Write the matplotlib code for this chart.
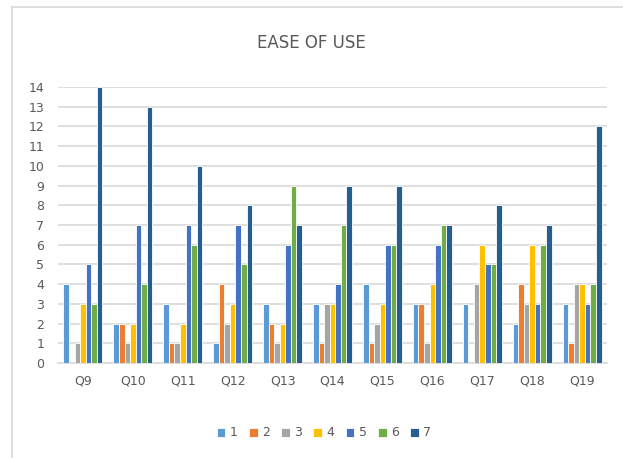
import numpy as np
import matplotlib
matplotlib.use("Agg")
import matplotlib.pyplot as plt
from matplotlib.lines import Line2D

questions = ["Q9", "Q10", "Q11", "Q12", "Q13", "Q14", "Q15", "Q16", "Q17", "Q18", "Q19"]
series_names = ["1", "2", "3", "4", "5", "6", "7"]
s1 = [4, 2, 3, 1, 3, 3, 4, 3, 3, 2, 3]
s2 = [0, 2, 1, 4, 2, 1, 1, 3, 0, 4, 1]
s3 = [1, 1, 1, 2, 1, 3, 2, 1, 4, 3, 4]
s4 = [3, 2, 2, 3, 2, 3, 3, 4, 6, 6, 4]
s5 = [5, 7, 7, 7, 6, 4, 6, 6, 5, 3, 3]
s6 = [3, 4, 6, 5, 9, 7, 6, 7, 5, 6, 4]
s7 = [14, 13, 10, 8, 7, 9, 9, 7, 8, 7, 12]
colors = ["#5B9BD5", "#ED7D31", "#A5A5A5", "#FFC000", "#4472C4", "#70AD47", "#255E91"]

series = [s1, s2, s3, s4, s5, s6, s7]
txt = "#595959"

fig = plt.figure(figsize=(6.23, 4.58), dpi=100)
ax = fig.add_axes([58 / 623, 95 / 458, 549 / 623, 276 / 458])

x = np.arange(len(questions))
slot = 0.78 / 7
for i, (vals, c) in enumerate(zip(series, colors)):
    offs = (i - 3) * slot
    ax.bar(x + offs, vals, width=slot, color=c, edgecolor="white",
           linewidth=0.6, label=series_names[i], zorder=3)

ax.set_xlim(-0.5, len(questions) - 0.5)
ax.set_ylim(0, 14)
ax.set_yticks(range(0, 15))
ax.set_xticks(x)
ax.set_xticklabels(questions)
ax.tick_params(axis="both", length=0, colors=txt, labelsize=9)
ax.tick_params(axis="x", pad=8)
ax.tick_params(axis="y", pad=10)
ax.grid(axis="y", color="#D9D9D9", linewidth=1.2, zorder=0)
for s in ["top", "right", "left"]:
    ax.spines[s].set_visible(False)
ax.spines["bottom"].set_color("#D9D9D9")
ax.spines["bottom"].set_linewidth(1.2)

fig.text(0.5, 415 / 458, "EASE OF USE", ha="center", va="center",
         fontsize=12, color=txt)

leg = fig.legend(loc="center", bbox_to_anchor=(0.52, 25 / 458), ncol=7,
                 frameon=False, fontsize=9, handlelength=0.7, handleheight=0.7,
                 columnspacing=0.9, handletextpad=0.35, labelcolor=txt)

# chart border: only the left and top edges are inside the picture
fig.add_artist(Line2D([12 / 623, 12 / 623], [0, 451 / 458], transform=fig.transFigure,
                      color="#D9D9D9", linewidth=1.2))
fig.add_artist(Line2D([12 / 623, 1], [451 / 458, 451 / 458], transform=fig.transFigure,
                      color="#D9D9D9", linewidth=1.2))

plt.savefig("out.png", dpi=100)
